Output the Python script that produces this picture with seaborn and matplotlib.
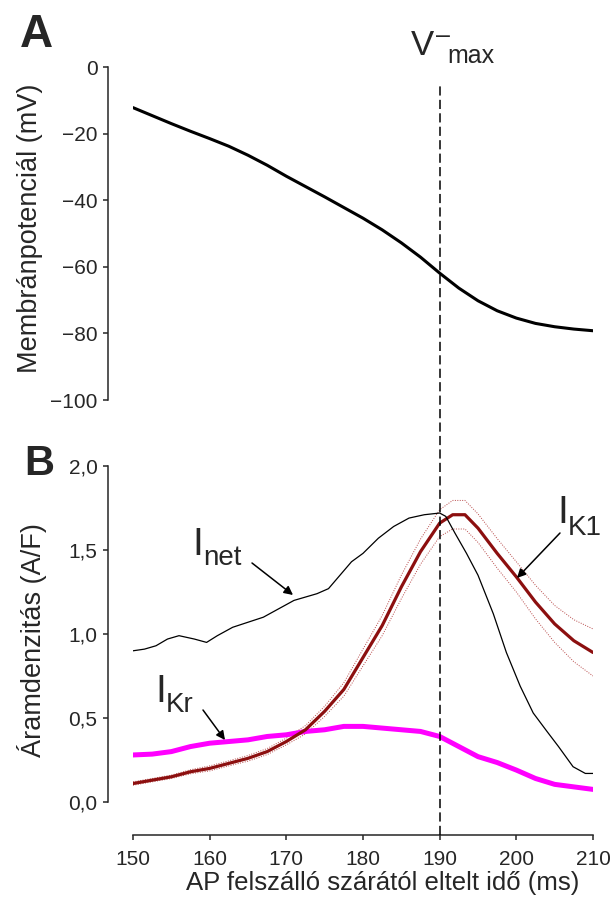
import numpy as np
import pandas as pd
import matplotlib
matplotlib.use("Agg")
import matplotlib.pyplot as plt
import matplotlib.transforms as mtransforms
from matplotlib.lines import Line2D
from matplotlib.patches import FancyArrowPatch
import seaborn as sns

# ---------------- data ----------------
# Panel A: membrane potential
t_vm = [150, 152.5, 155, 157.5, 160, 162.5, 165, 167.5, 170, 172.5, 175, 177.5,
        180, 182.5, 185, 187.5, 190, 192.5, 195, 197.5, 200, 202.5, 205, 207.5, 210]
vm = [-12.2, -14.6, -17.0, -19.3, -21.5, -23.8, -26.5, -29.5, -32.8, -35.9, -39.0, -42.2,
      -45.4, -48.9, -52.8, -57.1, -61.9, -66.4, -70.2, -73.2, -75.4, -77.0, -78.0, -78.7, -79.2]

# Panel B: net current
t_net = [150, 151.5, 153, 154.5, 156, 158, 159.6, 161, 163, 165, 167, 169, 171, 172.5, 174,
         175.5, 177, 178.5, 180, 182, 184, 186, 188, 190, 190.8, 192, 193.5, 195, 197,
         198.7, 200.5, 202.2, 204, 205.5, 207.4, 209, 210]
i_net = [0.90, 0.91, 0.93, 0.97, 0.99, 0.97, 0.95, 0.99, 1.04, 1.07, 1.10, 1.15, 1.20, 1.22,
         1.24, 1.27, 1.35, 1.43, 1.48, 1.57, 1.64, 1.69, 1.71, 1.72, 1.70, 1.60, 1.48, 1.35,
         1.12, 0.89, 0.69, 0.53, 0.42, 0.33, 0.21, 0.17, 0.17]

# IK1 mean and s.e.m.
t_k1 = [150, 152.5, 155, 157.5, 160, 162.5, 165, 167.5, 170, 172.5, 175, 177.5, 180,
        182.5, 185, 187.5, 190, 191.7, 193.3, 195, 197.5, 200, 202.5, 205, 207.5, 210]
i_k1 = [0.11, 0.13, 0.15, 0.18, 0.20, 0.23, 0.26, 0.30, 0.36, 0.43, 0.54, 0.67, 0.86,
        1.05, 1.28, 1.49, 1.66, 1.71, 1.71, 1.63, 1.48, 1.34, 1.19, 1.06, 0.96, 0.89]
sem_k1 = [0.01, 0.01, 0.01, 0.012, 0.015, 0.015, 0.017, 0.018, 0.02, 0.025, 0.03, 0.04, 0.05,
          0.06, 0.07, 0.075, 0.08, 0.085, 0.085, 0.085, 0.088, 0.09, 0.10, 0.11, 0.125, 0.14]

# IKr
t_kr = [150, 152.5, 155, 157.5, 160, 162.5, 165, 167.5, 170, 172.5, 175, 177.5, 180,
        182.5, 185, 187.5, 190, 192.5, 195, 197.5, 200, 202.5, 205, 207.5, 210]
i_kr = [0.28, 0.285, 0.30, 0.33, 0.35, 0.36, 0.37, 0.39, 0.40, 0.42, 0.43, 0.45, 0.45,
        0.44, 0.43, 0.42, 0.39, 0.33, 0.27, 0.235, 0.19, 0.14, 0.105, 0.09, 0.075]

x_ticks = [150, 160, 170, 180, 190, 200, 210]
a_ticks = [0, -20, -40, -60, -80, -100]
a_ticklabels = ["0", "\u221220", "\u221240", "\u221260", "\u221280", "\u2212100"]
b_ticks = [0.0, 0.5, 1.0, 1.5, 2.0]
b_ticklabels = ["0,0", "0,5", "1,0", "1,5", "2,0"]
vmax_time = 190

# ---------------- style ----------------
sns.set_style("ticks")
plt.rcParams['font.family'] = ['Liberation Sans', 'DejaVu Sans']
plt.rcParams['axes.linewidth'] = 1.1
plt.rcParams['xtick.major.width'] = 1.1
plt.rcParams['ytick.major.width'] = 1.1
plt.rcParams['xtick.major.size'] = 3.6
plt.rcParams['ytick.major.size'] = 3.6

TICK_FS = 15

W, H = 614, 909
fig = plt.figure(figsize=(W / 100, H / 100), dpi=100)

def fx(px):
    return px / W

def fy(py):
    return 1 - py / H

axA = fig.add_axes([fx(133), fy(400), 460 / W, 333 / H])
axB = fig.add_axes([fx(133), fy(802), 460 / W, 336 / H])

# ---------------- panel A ----------------
sns.lineplot(x=t_vm, y=vm, ax=axA, color="black", linewidth=2.2)
axA.set_xlim(150, 210)
axA.set_ylim(-100, 0)
axA.set_yticks(a_ticks)
axA.set_yticklabels(a_ticklabels)
axA.tick_params(axis='y', pad=4, labelsize=TICK_FS)
axA.set_xticks([])
for s in ["top", "right", "bottom"]:
    axA.spines[s].set_visible(False)
axA.spines["left"].set_position(("outward", 18))
axA.set_xlabel("")
axA.set_ylabel("")

# ---------------- panel B ----------------
upper = [m + s for m, s in zip(i_k1, sem_k1)]
lower = [m - s for m, s in zip(i_k1, sem_k1)]
band_col = "#b84a4a"
sns.lineplot(x=t_k1, y=upper, ax=axB, color=band_col, linewidth=0.7, linestyle=(0, (1, 1.5)))
sns.lineplot(x=t_k1, y=lower, ax=axB, color=band_col, linewidth=0.7, linestyle=(0, (1, 1.5)))
sns.lineplot(x=t_kr, y=i_kr, ax=axB, color="#ff00ff", linewidth=3.6)
sns.lineplot(x=t_k1, y=i_k1, ax=axB, color="#8c0f0f", linewidth=2.3)
sns.lineplot(x=t_net, y=i_net, ax=axB, color="black", linewidth=0.9)
axB.set_xlim(150, 210)
axB.set_ylim(0, 2.0)
axB.set_xticks(x_ticks)
axB.set_xticklabels([str(v) for v in x_ticks])
axB.set_yticks(b_ticks)
axB.set_yticklabels(b_ticklabels)
axB.tick_params(axis='y', pad=4, labelsize=TICK_FS)
axB.tick_params(axis='x', pad=7, labelsize=TICK_FS)
for s in ["top", "right"]:
    axB.spines[s].set_visible(False)
axB.spines["left"].set_position(("outward", 18))
axB.spines["bottom"].set_position(("outward", 24))
axB.set_xlabel("")
axB.set_ylabel("")

# ---------------- vertical dashed line ----------------
trans = mtransforms.blended_transform_factory(axB.transData, fig.transFigure)
fig.add_artist(Line2D([vmax_time, vmax_time], [fy(835), fy(83)], transform=trans,
                      color="black", linewidth=1.1, dashes=(6, 2.8)))

# ---------------- texts ----------------
fig.text(fx(30), fy(228), "Membránpotenciál (mV)", rotation=90, ha="center", va="center", fontsize=19.5)
fig.text(fx(32), fy(640), "Áramdenzitás (A/F)", rotation=90, ha="center", va="center", fontsize=19.5)
fig.text(fx(383), fy(890), "AP felszálló szárától eltelt idő (ms)", ha="center", va="baseline", fontsize=18.5)

fig.text(fx(20), fy(47), "A", fontsize=33, fontweight="bold", ha="left", va="baseline")
fig.text(fx(24), fy(475), "B", fontsize=30, fontweight="bold", ha="left", va="baseline")

# V max label
fig.text(fx(411), fy(55), "V", fontsize=25, ha="left", va="baseline")
fig.text(fx(436), fy(43), "\u2013", fontsize=18, ha="left", va="baseline")
fig.text(fx(447), fy(63), "max", fontsize=18, ha="left", va="baseline")

# current labels
def cur_label(x, y_main, y_sub, sub):
    fig.text(fx(x), fy(y_main), "I", fontsize=28, ha="left", va="baseline")
    fig.text(fx(x + 11), fy(y_sub), sub, fontsize=20, ha="left", va="baseline")

cur_label(192, 555, 565, "net")
cur_label(557, 523, 535, "K1")
cur_label(155, 702, 712, "Kr")

def arrow(x0, y0, x1, y1):
    fig.add_artist(FancyArrowPatch(
        (fx(x0), fy(y0)), (fx(x1), fy(y1)), transform=fig.transFigure,
        arrowstyle="-|>", mutation_scale=13, color="black", linewidth=1.1,
        shrinkA=0, shrinkB=0))

arrow(252, 563, 293, 595)
arrow(560, 533, 517, 578)
arrow(203, 710, 225, 740)

fig.savefig("out.png", dpi=100)
